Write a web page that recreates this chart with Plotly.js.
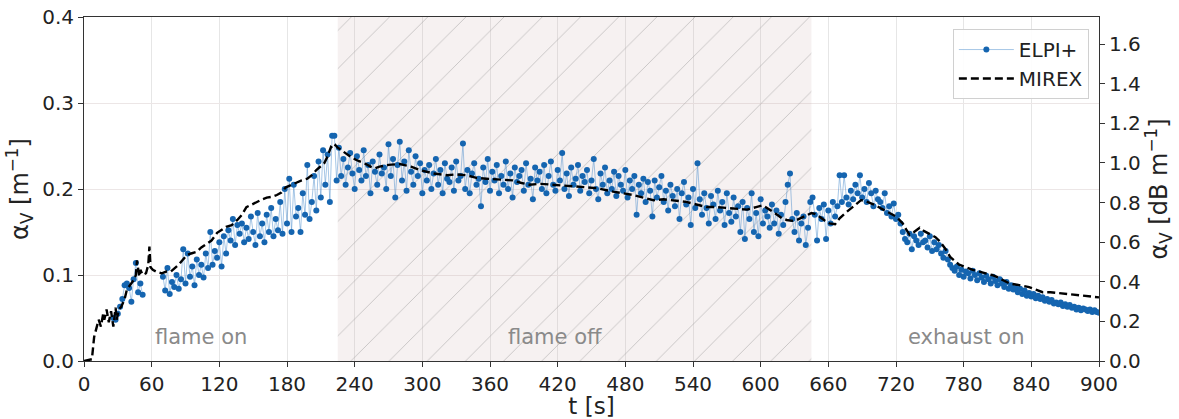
<!DOCTYPE html>
<html>
<head>
<meta charset="utf-8">
<script src="https://cdn.plot.ly/plotly-3.0.1.min.js"></script>
<style>html,body{margin:0;padding:0;background:#fff;}#chart{width:1179px;height:419px;}</style>
</head>
<body>
<div id="chart"></div>
<script>
// ELPI+ samples: every 2 s starting at t = 26 s (null = no sample)
const elpiStart = 26;
const elpiStep = 2;
const elpiV = [
0.050,0.048,0.055,0.063,0.072,0.088,0.090,0.085,0.069,0.095,
0.114,0.080,0.090,0.077,null,null,null,null,null,null,
null,null,0.098,0.082,0.108,0.078,0.092,0.086,0.100,0.084,
0.095,0.130,0.090,0.125,0.098,0.110,0.088,0.118,0.100,0.112,
0.097,0.125,0.108,0.150,0.112,0.128,0.120,0.138,0.110,0.145,
0.125,0.152,0.140,0.165,0.135,0.158,0.148,0.160,0.138,0.155,
0.142,0.168,0.150,0.135,0.172,0.145,0.160,0.138,0.170,0.150,
0.178,0.145,0.165,0.152,0.185,0.148,0.200,0.160,0.212,0.150,
0.205,0.168,0.178,0.150,0.195,0.170,0.228,0.165,0.185,0.215,
0.175,0.232,0.190,0.245,0.205,0.240,0.185,0.262,0.262,0.210,
0.248,0.215,0.235,0.205,0.225,0.242,0.218,0.200,0.238,0.222,
0.210,0.245,0.215,0.228,0.195,0.232,0.220,0.205,0.240,0.218,
0.225,0.200,0.252,0.215,0.235,0.190,0.228,0.255,0.210,0.232,
0.198,0.245,0.220,0.205,0.238,0.215,0.230,0.195,0.222,0.210,
0.228,0.200,0.218,0.235,0.205,0.222,0.195,0.230,0.212,0.208,
0.225,0.198,0.232,0.210,0.215,0.253,0.200,0.222,0.195,0.218,
0.230,0.205,0.212,0.180,0.225,0.208,0.235,0.198,0.220,0.210,
0.228,0.195,0.215,0.205,0.232,0.200,0.218,0.190,0.225,0.208,
0.215,0.222,0.198,0.230,0.205,0.212,0.188,0.225,0.210,0.220,
0.200,0.228,0.195,0.215,0.232,0.205,0.198,0.222,0.210,0.242,
0.200,0.218,0.192,0.225,0.205,0.212,0.228,0.198,0.215,0.208,
0.222,0.195,0.210,0.235,0.200,0.188,0.218,0.205,0.225,0.195,
0.210,0.200,0.220,0.192,0.215,0.205,0.198,0.222,0.190,0.210,
0.200,0.215,0.170,0.205,0.195,0.212,0.185,0.208,0.198,0.168,
0.210,0.190,0.202,0.215,0.185,0.198,0.175,0.205,0.192,0.180,
0.200,0.165,0.195,0.208,0.182,0.190,0.158,0.200,0.178,0.230,
0.188,0.170,0.195,0.178,0.160,0.192,0.182,0.165,0.198,0.175,
0.185,0.158,0.195,0.172,0.162,0.190,0.168,0.180,0.150,0.185,
0.142,0.178,0.165,0.195,0.150,0.172,0.145,0.188,0.160,0.175,
0.168,0.155,0.182,0.160,0.175,0.148,0.170,0.158,0.185,0.205,
0.218,0.165,0.150,0.172,0.140,0.160,0.168,0.135,0.155,0.185,
0.190,0.170,0.140,0.178,0.165,0.182,0.142,0.175,0.160,0.185,
0.168,0.180,0.216,0.185,0.216,0.190,0.182,0.198,0.188,0.205,
0.195,0.216,0.190,0.200,0.185,0.207,0.195,0.180,0.198,0.188,
0.185,0.178,0.195,0.172,0.180,0.168,0.183,0.165,0.170,0.160,
0.150,0.142,0.138,0.148,0.130,0.145,0.140,0.135,0.148,0.138,
0.140,0.132,0.145,0.128,0.138,0.130,0.135,0.125,0.120,0.128,
0.118,0.112,0.108,0.105,0.110,0.100,0.106,0.098,0.104,0.102,
0.096,0.105,0.100,0.094,0.102,0.097,0.092,0.099,0.095,0.090,
0.098,0.093,0.088,0.095,0.090,0.086,0.092,0.084,0.088,0.083,
0.085,0.080,0.084,0.078,0.082,0.076,0.079,0.075,0.078,0.073,
0.076,0.072,0.074,0.070,0.072,0.069,0.071,0.067,0.068,0.066,
0.068,0.064,0.066,0.063,0.065,0.062,0.063,0.060,0.062,0.059,
0.061,0.060,0.058,0.060,0.057,0.059,0.057,0.056
];
const elpiT = elpiV.map((_, i) => elpiStart + elpiStep * i);

// MIREX
const mirexT = [
0,7,9,11,13,15,17,18,20,22,
24,26,28,29,31,33,36,38,41,44,
46,47,49,50,52,55,57,58,59,61,
64,69,73,77,84,91,95,100,104,109,
113,118,122,126,131,136,140,144,149,153,
158,162,167,171,175,179,184,189,193,198,
202,206,210,213,216,219,221,223,225,228,
232,237,241,245,250,254,258,262,270,280,
290,298,310,322,330,339,348,357,368,380,
388,395,405,416,428,440,455,469,478,487,
496,505,514,522,534,543,552,561,570,579,
588,596,602,608,614,619,623,628,632,637,
641,645,648,652,657,661,666,670,675,679,
684,689,693,697,702,706,710,714,717,720,
723,726,729,732,736,741,745,750,755,759,
764,768,772,776,782,788,794,800,805,809,
815,821,826,830,834,838,844,850,857,865,
872,880,890,900
];
const mirexV = [
0.000,0.002,0.028,0.040,0.048,0.040,0.055,0.048,0.060,0.045,
0.058,0.040,0.062,0.048,0.060,0.063,0.072,0.083,0.088,0.094,
0.100,0.117,0.098,0.106,0.100,0.102,0.112,0.133,0.109,0.106,
0.104,0.102,0.104,0.104,0.112,0.123,0.125,0.127,0.132,0.137,
0.140,0.149,0.152,0.156,0.158,0.164,0.170,0.179,0.182,0.185,
0.188,0.190,0.191,0.193,0.196,0.202,0.205,0.208,0.210,0.212,
0.216,0.222,0.226,0.230,0.238,0.249,0.247,0.251,0.248,0.245,
0.242,0.237,0.234,0.232,0.229,0.226,0.224,0.226,0.228,0.229,
0.226,0.222,0.218,0.216,0.217,0.216,0.213,0.212,0.211,0.210,
0.207,0.205,0.206,0.205,0.204,0.203,0.201,0.197,0.195,0.193,
0.190,0.187,0.188,0.187,0.185,0.182,0.179,0.179,0.178,0.177,
0.176,0.179,0.181,0.176,0.170,0.166,0.164,0.163,0.164,0.167,
0.170,0.172,0.171,0.168,0.163,0.160,0.159,0.166,0.172,0.176,
0.181,0.187,0.186,0.184,0.181,0.178,0.175,0.173,0.170,0.168,
0.164,0.160,0.153,0.147,0.150,0.155,0.151,0.147,0.144,0.139,
0.130,0.121,0.116,0.112,0.109,0.106,0.104,0.102,0.100,0.098,
0.094,0.090,0.089,0.088,0.087,0.086,0.083,0.080,0.080,0.079,
0.078,0.077,0.075,0.074
];

// flame-off period
const flameOff = [225, 645];
const phaseLabels = ['flame on', 'flame off', 'exhaust on'];
const phaseLabelT = [104, 418, 782];
const phaseLabelY = 0.028;
const yMax = 0.4;
const dBperNp = 4.343; // right axis conversion

const font = 'DejaVu Sans, Liberation Sans, sans-serif';

const traces = [
  {
    type: 'bar',
    x: [(flameOff[0] + flameOff[1]) / 2],
    y: [yMax],
    base: 0,
    width: [flameOff[1] - flameOff[0]],
    marker: {
      color: 'rgba(190,160,160,0.15)',
      line: {width: 0},
      pattern: {shape: '/', fgcolor: '#a0a0a0', fgopacity: 0.55, size: 27, solidity: 0.035, fillmode: 'overlay'}
    },
    showlegend: false,
    hoverinfo: 'skip'
  },
  {
    type: 'scatter',
    mode: 'lines+markers',
    name: 'ELPI+',
    x: elpiT,
    y: elpiV,
    connectgaps: false,
    line: {color: 'rgba(60,130,200,0.45)', width: 1},
    marker: {color: '#1565b0', size: 6}
  },
  {
    type: 'scatter',
    mode: 'lines',
    name: 'MIREX',
    x: mirexT,
    y: mirexV,
    line: {color: '#000', width: 2.4, dash: '8px,4px'}
  },
  {
    type: 'scatter', mode: 'lines', x: [0], y: [0], yaxis: 'y2',
    showlegend: false, hoverinfo: 'skip', line: {width: 0}
  }
];

const layout = {
  width: 1179,
  height: 419,
  margin: {l: 84, r: 80, t: 17, b: 58},
  paper_bgcolor: '#fff',
  plot_bgcolor: '#fff',
  font: {family: font, color: '#222', size: 20},
  showlegend: true,
  legend: {
    x: 0.99, y: 0.965, xanchor: 'right', yanchor: 'top',
    bgcolor: 'rgba(255,255,255,0.9)', bordercolor: '#d0d0d0', borderwidth: 1,
    font: {family: font, size: 20, color: '#222'},
    itemwidth: 55,
    tracegroupgap: 2
  },
  xaxis: {
    range: [0, 900],
    dtick: 60,
    tick0: 0,
    ticks: 'outside', ticklen: 5, tickcolor: '#333',
    showline: true, linecolor: '#333', linewidth: 1, mirror: true,
    showgrid: true, gridcolor: '#e6e6e6',
    zeroline: false,
    automargin: false,
    tickfont: {family: font, size: 20, color: '#222'},
    title: {text: 't [s]', font: {family: font, size: 23, color: '#222'}, standoff: 2}
  },
  yaxis: {
    range: [0, yMax],
    dtick: 0.1,
    tickformat: '.1f',
    ticks: 'outside', ticklen: 5, tickcolor: '#333',
    showline: true, linecolor: '#333', linewidth: 1,
    showgrid: true, gridcolor: '#ece6e6',
    zeroline: false,
    automargin: false,
    tickfont: {family: font, size: 20, color: '#222'},
    title: {text: 'α<sub>V</sub> [m<sup>−1</sup>]', font: {family: font, size: 24, color: '#222'}, standoff: 6}
  },
  yaxis2: {
    overlaying: 'y',
    side: 'right',
    range: [0, yMax * dBperNp],
    dtick: 0.2,
    tickformat: '.1f',
    ticks: 'outside', ticklen: 5, tickcolor: '#333',
    showline: true, linecolor: '#333', linewidth: 1,
    showgrid: false, zeroline: false,
    automargin: false,
    tickfont: {family: font, size: 20, color: '#222'},
    title: {text: 'α<sub>V</sub> [dB m<sup>−1</sup>]', font: {family: font, size: 24, color: '#222'}, standoff: 6}
  },
  annotations: phaseLabels.map((txt, i) => ({
    x: phaseLabelT[i], y: phaseLabelY, xref: 'x', yref: 'y',
    text: txt, showarrow: false,
    font: {family: font, size: 21, color: '#8a8a8a'}
  }))
};

Plotly.newPlot('chart', traces, layout, {displayModeBar: false, staticPlot: true});
</script>
</body>
</html>
